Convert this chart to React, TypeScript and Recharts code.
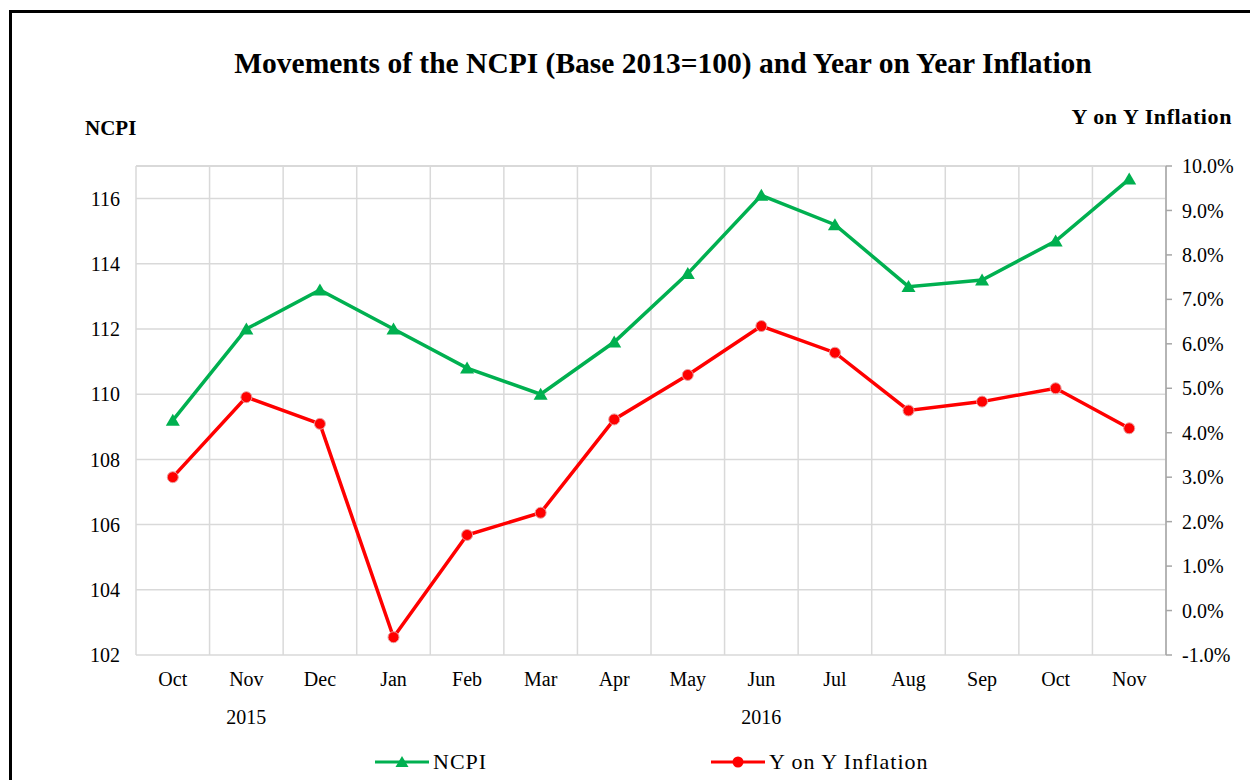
import { ComposedChart, Line, XAxis, YAxis, CartesianGrid, Legend, ReferenceLine } from 'recharts';

const months = ['Oct', 'Nov', 'Dec', 'Jan', 'Feb', 'Mar', 'Apr', 'May', 'Jun', 'Jul', 'Aug', 'Sep', 'Oct', 'Nov'];
const years = ['2015', '2015', '2015', '2016', '2016', '2016', '2016', '2016', '2016', '2016', '2016', '2016', '2016', '2016'];
const ncpi = [109.2, 112.0, 113.2, 112.0, 110.8, 110.0, 111.6, 113.7, 116.1, 115.2, 113.3, 113.5, 114.7, 116.6];
const inflation = [3.0, 4.8, 4.2, -0.6, 1.7, 2.2, 4.3, 5.3, 6.4, 5.8, 4.5, 4.7, 5.0, 4.1];
const ncpiTicks = [102, 104, 106, 108, 110, 112, 114, 116];
const inflationTicks = [-1, 0, 1, 2, 3, 4, 5, 6, 7, 8, 9, 10];

const data = months.map((m, i) => ({
  key: `${m} ${years[i]}`,
  idx: i,
  ncpi: ncpi[i],
  inflation: inflation[i],
}));

const n = months.length;
const boundaries = Array.from({ length: n + 1 }, (_, i) => i);
const FONT = '"Liberation Serif", "Times New Roman", serif';
const GREEN = '#00B050';
const RED = '#FF0000';
const GRID = '#D9D9D9';

const isGroupEdge = (i: number) => i === 0 || i === n || years[i] !== years[i - 1];

// middle index of each year group gets the year label
const groupMid = (i: number) => {
  let s = i;
  while (s > 0 && years[s - 1] === years[i]) s--;
  let e = i;
  while (e < n - 1 && years[e + 1] === years[i]) e++;
  return Math.floor((s + e) / 2) === i;
};

const SeparatorTick = ({ x, y, payload }: any) => (
  <line x1={x} x2={x} y1={y} y2={y + (isGroupEdge(payload.value) ? 98 : 51)} stroke={GRID} strokeWidth={1.5} />
);

const MonthTick = ({ x, y, payload }: any) => (
  <text x={x} y={y + 31} textAnchor="middle" fontFamily={FONT} fontSize={20} fill="#000">
    {payload.value.split(' ')[0]}
  </text>
);

const YearTick = ({ x, y, payload, index }: any) =>
  groupMid(index) ? (
    <text x={x} y={y + 19} textAnchor="middle" fontFamily={FONT} fontSize={20} fill="#000">
      {payload.value.split(' ')[1]}
    </text>
  ) : (
    <g />
  );

const Triangle = ({ cx, cy, index }: any) => (
  <polygon key={`tri-${index}`} points={`${cx},${cy - 6.5} ${cx - 7},${cy + 5.5} ${cx + 7},${cy + 5.5}`} fill={GREEN} />
);

const Dot = ({ cx, cy, index }: any) => (
  <circle key={`dot-${index}`} cx={cx} cy={cy} r={5.5} fill={RED} stroke="#E8A0A0" strokeWidth={1} />
);

const legendLeft = [375, 711];

const LegendContent = ({ payload }: any) => (
  <div style={{ position: 'relative', width: 1250, height: 26 }}>
    {(payload || []).map((entry: any, i: number) => (
      <div
        key={entry.value}
        style={{ position: 'absolute', left: legendLeft[i], top: 0, display: 'flex', alignItems: 'center', height: 26 }}
      >
        <svg width={54} height={20}>
          <line x1={0} x2={54} y1={10} y2={10} stroke={entry.color} strokeWidth={3} />
          {entry.dataKey === 'ncpi' ? (
            <polygon points="27,4 20.5,15 33.5,15" fill={entry.color} />
          ) : (
            <circle cx={27} cy={10} r={5.5} fill={entry.color} />
          )}
        </svg>
        <span style={{ fontFamily: FONT, fontSize: 22, letterSpacing: 1, marginLeft: 4, color: '#000' }}>
          {entry.value}
        </span>
      </div>
    ))}
  </div>
);

export default function App() {
  return (
    <div style={{ position: 'absolute', left: 0, top: 0, width: 1250, height: 780, background: '#fff', overflow: 'hidden' }}>
      <div
        style={{
          position: 'absolute',
          left: 9,
          top: 10,
          width: 1260,
          height: 800,
          borderTop: '3px solid #000',
          borderLeft: '3px solid #000',
          boxSizing: 'border-box',
        }}
      />
      <ComposedChart width={1250} height={780} data={data} margin={{ top: 166, right: 0, bottom: 30, left: 66 }}>
        <text x={663} y={73} textAnchor="middle" fontFamily={FONT} fontSize={29.5} fontWeight="bold" fill="#000">
          Movements of the NCPI (Base 2013=100) and Year on Year Inflation
        </text>
        <text x={85} y={135} fontFamily={FONT} fontSize={21} fontWeight="bold" fill="#000">
          NCPI
        </text>
        <text x={1232} y={124} textAnchor="end" fontFamily={FONT} fontSize={22} letterSpacing={0.6} fontWeight="bold" fill="#000">
          Y on Y Inflation
        </text>
        <CartesianGrid xAxisId="grid" yAxisId="left" stroke={GRID} strokeWidth={1.5} />
        <XAxis
          xAxisId="grid"
          dataKey="idx"
          type="number"
          domain={[0, n]}
          allowDataOverflow
          ticks={boundaries}
          height={0}
          tickSize={0}
          tickMargin={0}
          tickLine={false}
          axisLine={{ stroke: GRID, strokeWidth: 2 }}
          tick={<SeparatorTick />}
          interval={0}
        />
        <XAxis
          xAxisId="month"
          dataKey="key"
          scale="band"
          height={50}
          tickSize={0}
          tickMargin={0}
          tickLine={false}
          axisLine={false}
          tick={<MonthTick />}
          interval={0}
        />
        <XAxis
          xAxisId="year"
          dataKey="key"
          scale="band"
          height={45}
          tickSize={0}
          tickMargin={0}
          tickLine={false}
          axisLine={false}
          tick={<YearTick />}
          interval={0}
        />
        <YAxis
          yAxisId="left"
          width={70}
          domain={[102, 117]}
          ticks={ncpiTicks}
          axisLine={false}
          tickLine={false}
          tickMargin={10}
          tick={{ fontFamily: FONT, fontSize: 20, fill: '#000' }}
        />
        <YAxis
          yAxisId="right"
          orientation="right"
          width={84}
          domain={[-1, 10]}
          ticks={inflationTicks}
          tickFormatter={(v: number) => `${v.toFixed(1)}%`}
          axisLine={{ stroke: '#A6A6A6', strokeWidth: 1.5 }}
          tickLine={{ stroke: '#A6A6A6', strokeWidth: 1.5 }}
          tickSize={6}
          tickMargin={10}
          tick={{ fontFamily: FONT, fontSize: 20, fill: '#000' }}
        />
        <ReferenceLine xAxisId="grid" yAxisId="left" y={117} stroke={GRID} strokeWidth={2} />
        <Legend
          verticalAlign="middle"
          align="center"
          layout="horizontal"
          wrapperStyle={{ left: 0, top: 749, width: 1250 }}
          content={<LegendContent />}
        />
        <Line
          xAxisId="month"
          yAxisId="left"
          dataKey="ncpi"
          name="NCPI"
          stroke={GREEN}
          strokeWidth={3.5}
          dot={Triangle}
          activeDot={false}
          isAnimationActive={false}
        />
        <Line
          xAxisId="month"
          yAxisId="right"
          dataKey="inflation"
          name="Y on Y Inflation"
          stroke={RED}
          strokeWidth={3.5}
          dot={Dot}
          activeDot={false}
          isAnimationActive={false}
        />
      </ComposedChart>
    </div>
  );
}
